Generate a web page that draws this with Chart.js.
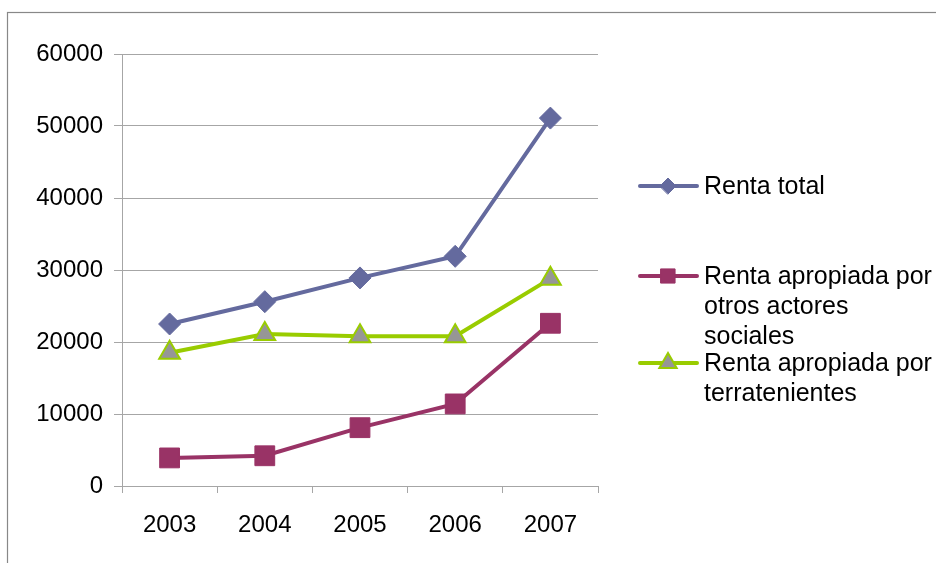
<!DOCTYPE html>
<html>
<head>
<meta charset="utf-8">
<script src="https://cdn.jsdelivr.net/npm/chart.js@4/dist/chart.umd.min.js"></script>
<style>
  html,body{ margin:0; padding:0; background:#fff; }
  #wrap{ width:936px; height:563px; position:relative; }
</style>
</head>
<body>
<div id="wrap"><canvas id="rentaChart" width="936" height="563"></canvas></div>
<script>
// datos
const YEARS = ['2003','2004','2005','2006','2007'];
const RENTA_TOTAL = [22500, 25600, 28900, 31900, 51100];
const RENTA_OTROS = [3900, 4200, 8100, 11400, 22600];
const RENTA_TERRA = [18500, 21100, 20800, 20800, 28800];
const Y_TICKS = [0, 10000, 20000, 30000, 40000, 50000, 60000];
const SERIES_NAMES = ['Renta total', 'Renta apropiada por otros actores sociales', 'Renta apropiada por terratenientes'];
const LEGEND_LINES = [['Renta total'], ['Renta apropiada por', 'otros actores', 'sociales'], ['Renta apropiada por', 'terratenientes']];

(function(){
  'use strict';

  const FONT = 'Liberation Sans, Arial, sans-serif';
  const GRID = '#a6a6a6';

  // marco exterior (como el borde del gráfico de Excel)
  const framePlugin = {
    id:'frame',
    beforeDraw(chart){
      const c = chart.ctx;
      c.save();
      c.strokeStyle = '#888'; c.lineWidth = 1.2;
      c.strokeRect(7.5, 12.5, 1200, 1200);
      c.restore();
    }
  };

  // leyenda a la derecha con texto en varias líneas
  const legendPlugin = {
    id:'sideLegend',
    afterDraw(chart){
      const c = chart.ctx;
      const rows = [186, 276, 363];
      c.save();
      chart.data.datasets.forEach((ds, i)=>{
        const y = rows[i];
        c.strokeStyle = ds.borderColor; c.lineWidth = 4; c.lineCap = 'round';
        c.beginPath(); c.moveTo(640, y); c.lineTo(697, y); c.stroke();
        c.fillStyle = ds.pointBackgroundColor;
        c.strokeStyle = ds.pointBorderColor; c.lineWidth = ds.pointBorderWidth;
        const r = ds.pointStyle === 'rectRot' ? 8 : 10;
        Chart.helpers.drawPoint(c, { pointStyle: ds.pointStyle, radius: r, borderWidth: ds.pointBorderWidth }, 668, y);
        c.fillStyle = '#000'; c.font = '25px ' + FONT; c.textBaseline = 'middle'; c.textAlign = 'left';
        LEGEND_LINES[i].forEach((t, k)=> c.fillText(t, 704, y + 1 + k*30));
      });
      c.restore();
    }
  };

  function line(label, data, color, style, radius, fill, bw){
    return {
      label, data,
      borderColor: color, borderWidth: 4,
      pointStyle: style, pointRadius: radius, pointHoverRadius: radius,
      pointBackgroundColor: fill, pointBorderColor: color, pointBorderWidth: bw,
      tension: 0, fill: false
    };
  }

  const ctx = document.getElementById('rentaChart');
  new Chart(ctx, {
    type:'line',
    data:{
      labels: YEARS,
      datasets:[
        line(SERIES_NAMES[0], RENTA_TOTAL, '#646a9e', 'rectRot', 11, '#646a9e', 1),
        line(SERIES_NAMES[1], RENTA_OTROS, '#993366', 'rect', 14, '#993366', 1),
        line(SERIES_NAMES[2], RENTA_TERRA, '#99cc00', 'triangle', 12, '#969696', 2)
      ]
    },
    options:{
      responsive:false,
      animation:false,
      layout:{ padding:{ left:0, right:338, top:54, bottom:0 } },
      plugins:{ legend:{ display:false }, tooltip:{ enabled:false } },
      scales:{
        x:{
          offset:true,
          grid:{ offset:true, drawOnChartArea:false, color:GRID, tickLength:7 },
          border:{ color:GRID },
          ticks:{ color:'#000', font:{ family:FONT, size:24 }, padding:18, maxRotation:0 },
          afterFit(s){ s.height = 77; }
        },
        y:{
          min:0, max:60000,
          afterBuildTicks(s){ s.ticks = Y_TICKS.map(v=>({ value:v })); },
          grid:{ color:GRID, tickLength:8 },
          border:{ color:GRID },
          ticks:{ color:'#000', font:{ family:FONT, size:24 }, padding:11, callback:v=>String(v) },
          afterFit(s){ s.width = 122; }
        }
      }
    },
    plugins:[framePlugin, legendPlugin]
  });
})();
</script>
</body>
</html>
